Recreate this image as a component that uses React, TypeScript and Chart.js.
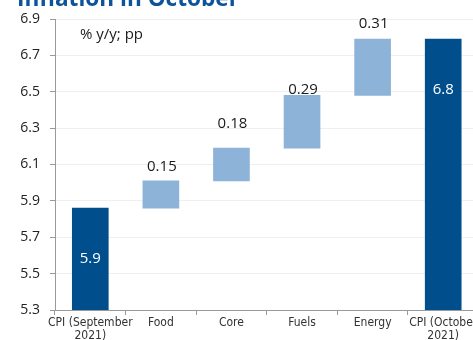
import React, { useEffect, useRef } from "react";
import { Chart, registerables } from "chart.js";

Chart.register(...registerables);

const categories: (string | string[])[] = [
  ["CPI (September", "2021)"],
  "Food",
  "Core",
  "Fuels",
  "Energy",
  ["CPI (October", "2021)"],
];
const startValue = 5.86;
const changes = [0.15, 0.18, 0.29, 0.31];
const endValue = 6.79;
const startLabel = "5.9";
const endLabel = "6.8";
const changeLabels = ["0.15", "0.18", "0.29", "0.31"];
const yMin = 5.3;
const yMax = 6.9;
const yStep = 0.2;

const titleText = "Inflation in October";
const unitText = "% y/y; pp";

const DARK = "#004F8C";
const LIGHT = "#8EB3D9";
const FONT = "'Open Sans', 'DejaVu Sans', sans-serif";
const NARROW = "'Liberation Sans Narrow', 'DejaVu Sans Condensed', sans-serif";
const changeLabelGap = [14, 24, 6, 15];

export default function App() {
  const ref = useRef<HTMLCanvasElement | null>(null);

  useEffect(() => {
    document.body.style.margin = "0";
    const canvas = ref.current;
    if (!canvas) return;

    const bars: [number, number][] = [];
    bars.push([yMin, startValue]);
    let cur = startValue;
    changes.forEach((c) => {
      const next = Math.round((cur + c) * 100) / 100;
      bars.push([cur, next]);
      cur = next;
    });
    bars.push([yMin, endValue]);
    const colors = bars.map((_, i) => (i === 0 || i === bars.length - 1 ? DARK : LIGHT));

    const labelPlugin = {
      id: "labels",
      afterDatasetsDraw(chart: any) {
        const ctx = chart.ctx;
        const meta = chart.getDatasetMeta(0);
        ctx.save();
        ctx.textAlign = "center";
        ctx.textBaseline = "middle";
        meta.data.forEach((el: any, i: number) => {
          const top = Math.min(el.y, el.base);
          if (i === 0 || i === meta.data.length - 1) {
            ctx.fillStyle = "#ffffff";
            ctx.font = `15px ${FONT}`;
            ctx.fillText(i === 0 ? startLabel : endLabel, el.x, top + 51);
          } else {
            ctx.fillStyle = "#1a1a1a";
            ctx.font = `15px ${FONT}`;
            ctx.fillText(changeLabels[i - 1], el.x + 1, top - changeLabelGap[i - 1]);
          }
        });
        ctx.textAlign = "left";
        ctx.fillStyle = "#1a1a1a";
        ctx.font = `15px ${FONT}`;
        ctx.fillText(unitText, 80, 35);
        ctx.textBaseline = "alphabetic";
        ctx.fillStyle = "#0C5399";
        ctx.font = `bold 22.6px ${FONT}`;
        ctx.fillText(titleText, 17, 5.5);
        ctx.restore();
      },
    };

    const chart = new Chart(canvas, {
      type: "bar",
      data: {
        labels: categories,
        datasets: [
          {
            data: bars as any,
            backgroundColor: colors,
            borderWidth: 0,
            barThickness: 36,
          },
        ],
      },
      options: {
        responsive: false,
        animation: false,
        maintainAspectRatio: false,
        layout: { padding: { top: 19, right: 1.5, left: 0, bottom: 0 } },
        plugins: {
          legend: { display: false },
          tooltip: { enabled: false },
          title: { display: false },
        },
        scales: {
          x: {
            offset: true,
            grid: {
              display: true,
              drawOnChartArea: false,
              offset: true,
              tickLength: 5,
              tickColor: "#9a9a9a",
            },
            border: { color: "#9a9a9a" },
            ticks: {
              font: { family: NARROW, size: 12, lineHeight: 1.1 },
              color: "#333333",
              padding: 1,
              maxRotation: 0,
              autoSkip: false,
            },
            afterFit(scale: any) {
              scale.height = 30;
            },
          },
          y: {
            min: yMin,
            max: yMax,
            grid: {
              color: "#efefef",
              tickLength: 5,
              tickColor: "#9a9a9a",
            },
            border: { color: "#9a9a9a" },
            ticks: {
              stepSize: yStep,
              font: { family: FONT, size: 14 },
              color: "#222222",
              padding: 10,
              callback: (v: any) => Number(v).toFixed(1),
            },
            afterFit(scale: any) {
              scale.width = 55;
            },
          },
        },
      },
      plugins: [labelPlugin],
    });

    return () => chart.destroy();
  }, []);

  return (
    <div style={{ width: 473, height: 340, overflow: "hidden", position: "relative" }}>
      <canvas ref={ref} width={480} height={340} style={{ width: 480, height: 340, display: "block" }} />
    </div>
  );
}
